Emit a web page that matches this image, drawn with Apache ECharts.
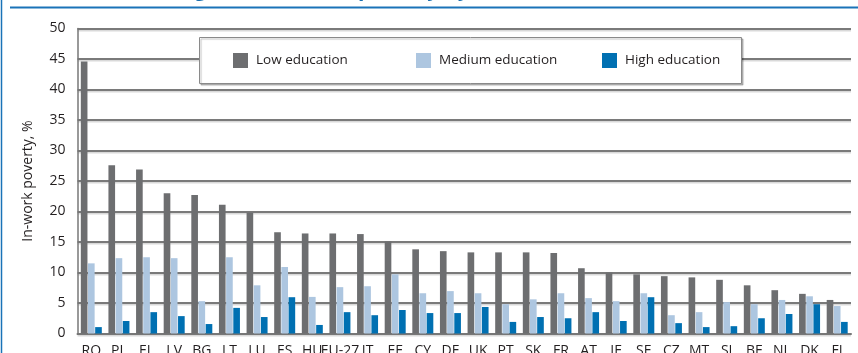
<!DOCTYPE html>
<html>
<head>
<meta charset="utf-8">
<script src="https://cdn.jsdelivr.net/npm/echarts@6/dist/echarts.min.js"></script>
<style>
html,body{margin:0;padding:0;background:#fff;}
#c{width:858px;height:353px;}
</style>
</head>
<body>
<div id="c"></div>
<script>
const categories = ['RO','PL','EL','LV','BG','LT','LU','ES','HU','EU-27','IT','EE','CY','DE','UK','PT','SK','FR','AT','IE','SE','CZ','MT','SI','BE','NL','DK','FI'];
const lowEducation = [44.6, 27.6, 26.9, 23.0, 22.7, 21.1, 19.8, 16.6, 16.4, 16.4, 16.3, 15.1, 13.8, 13.5, 13.3, 13.3, 13.3, 13.2, 10.7, 10.0, 9.7, 9.4, 9.2, 8.8, 7.9, 7.1, 6.5, 5.5];
const mediumEducation = [11.5, 12.35, 12.5, 12.35, 5.3, 12.5, 7.9, 10.9, 6.0, 7.6, 7.75, 9.7, 6.6, 6.95, 6.6, 4.8, 5.6, 6.6, 5.8, 5.3, 6.6, 3.0, 3.5, 5.15, 4.8, 5.5, 6.1, 4.5];
const highEducation = [1.05, 2.05, 3.5, 2.85, 1.55, 4.2, 2.7, 5.95, 1.4, 3.5, 3.0, 3.85, 3.35, 3.35, 4.35, 1.9, 2.7, 2.5, 3.5, 2.05, 5.95, 1.7, 1.05, 1.2, 2.5, 3.2, 4.8, 1.9];
const seriesNames = ['Low education', 'Medium education', 'High education'];
const titleText = 'Figure 3: In-work poverty by education level, 2008';
const yAxisName = 'In-work poverty, %';

const colors = ['#6d6e70', '#adc6e0', '#0070b2'];
const font = '"Open Sans", sans-serif';
const chart = echarts.init(document.getElementById('c'), null, {renderer: 'canvas'});

const legendLefts = [233, 416, 602];
const legends = seriesNames.map((n, i) => ({
  data: [n], left: legendLefts[i], top: 53, padding: 0,
  itemWidth: 15, itemHeight: 15, icon: 'rect', z: 10,
  textStyle: {fontFamily: font, fontSize: 13.5, color: '#231f20', padding: [0, 0, 0, 3]}
}));

chart.setOption({
  animation: false,
  color: colors,
  grid: {left: 77.5, right: 7, top: 28.5, bottom: 19.5, containLabel: false, outerBoundsMode: 'none'},
  legend: legends,
  graphic: [
    {type: 'line', z: 100, shape: {x1: 1.5, y1: 0, x2: 1.5, y2: 353}, style: {stroke: '#1a73b8', lineWidth: 1.5}},
    {type: 'text', z: 99, x: 436, y: 1,
     style: {text: titleText, fill: '#1a6fb0', font: 'bold 21px "Open Sans", sans-serif', textAlign: 'center', textVerticalAlign: 'bottom'}},
    {type: 'rect', z: 99, shape: {x: 10, y: 6.5, width: 848, height: 3}, style: {fill: '#fff'}},
    {type: 'line', z: 100, shape: {x1: 10, y1: 7.5, x2: 858, y2: 7.5}, style: {stroke: '#1a73b8', lineWidth: 2}},
    {type: 'rect', z: 5, shape: {x: 199.5, y: 37.5, width: 542, height: 46},
     style: {fill: '#fff', stroke: '#8a8a8a', lineWidth: 1, shadowColor: 'rgba(0,0,0,0.25)', shadowOffsetX: 1.5, shadowOffsetY: 1.5, shadowBlur: 1}}
  ],
  xAxis: {
    type: 'category', data: categories,
    axisLine: {lineStyle: {color: '#777', width: 2}},
    axisTick: {show: false},
    axisLabel: {interval: 0, margin: 11, fontFamily: '"Liberation Sans Narrow", "Open Sans", sans-serif', fontSize: 14, color: '#231f20'}
  },
  yAxis: {
    type: 'value', min: 0, max: 50, interval: 5,
    name: yAxisName, nameLocation: 'middle', nameGap: 42,
    nameTextStyle: {fontFamily: font, fontSize: 14, color: '#231f20'},
    axisLine: {show: true, lineStyle: {color: '#777', width: 1.5}},
    axisTick: {show: false},
    axisLabel: {margin: 12, fontFamily: font, fontSize: 14, color: '#231f20'},
    splitLine: {lineStyle: {color: '#7a7a7a', width: 2, shadowColor: 'rgba(0,0,0,0.15)', shadowOffsetY: 1.5, shadowBlur: 0}}
  },
  series: [
    {name: seriesNames[0], type: 'bar', data: lowEducation, barGap: '8%', barCategoryGap: '24%', itemStyle: {color: colors[0]}},
    {name: seriesNames[1], type: 'bar', data: mediumEducation, itemStyle: {color: colors[1]}},
    {name: seriesNames[2], type: 'bar', data: highEducation, itemStyle: {color: colors[2]}}
  ]
});
</script>
</body>
</html>
